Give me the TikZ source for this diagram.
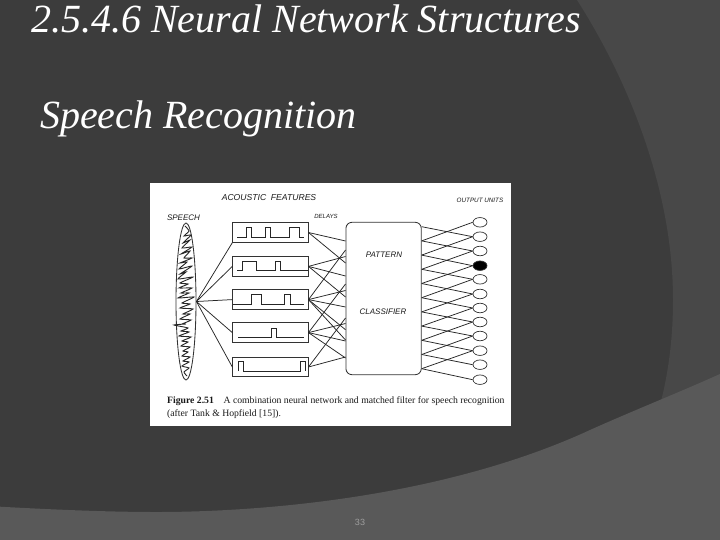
\documentclass[tikz,border=0pt]{standalone}
\usepackage{fontspec}
\setmainfont{Liberation Serif}
\setsansfont{Liberation Sans}
\usepackage{xcolor}
\usetikzlibrary{shapes.geometric}
\definecolor{slidedark}{HTML}{3C3C3C}
\definecolor{slidemid}{HTML}{484848}
\definecolor{slidelow}{HTML}{595959}
\tikzset{
  title/.style={anchor=base west, inner sep=0pt, text=white, font=\fontsize{40}{44}\selectfont\itshape},
  delaybox/.style={draw=black!80, line width=0.85pt, minimum width=75.3pt, minimum height=19.5pt, inner sep=0pt},
  unit/.style={draw=black!80, ellipse, line width=0.7pt, minimum width=14pt, minimum height=9.5pt, inner sep=0pt},
  link/.style={black!85, line width=0.75pt},
  wave/.style={black!85, line width=0.9pt},
  tag/.style={inner sep=0pt, text=black!90, font=\sffamily\itshape\fontsize{#1}{#1}\selectfont},
  caption/.style={anchor=base west, inner sep=0pt, text=black!90, font=\fontsize{9.7}{11}\selectfont},
}

\begin{document}
\begin{tikzpicture}[x=1pt,y=-1pt]
  \useasboundingbox (0,0) rectangle (720,540);
  % slide background
  \fill[slidedark] (0,0) rectangle (720,540);
  \fill[slidemid] (577,0) .. controls (625,75) and (673,185) .. (673,300)
    .. controls (673,340) and (668,375) .. (660,405) -- (720,405) -- (720,0) -- cycle;
  \fill[slidelow] (0,506.7) .. controls (60,510) and (130,513) .. (184,511.7)
    .. controls (300,509) and (460,490) .. (590,430) .. controls (630,412) and (680,392) .. (720,374)
    -- (720,540) -- (0,540) -- cycle;
  \node[title] (heading) at (31,32.5) {2.5.4.6 Neural Network Structures};
  \node[title] (subheading) at (40,129) {Speech Recognition};
  \node[inner sep=0pt, text=white!62!black, font=\sffamily\fontsize{9}{9}\selectfont] (pageno) at (360,522) {33};

  % figure
  \fill[white] (150,183) rectangle (511,426);
  \node[tag=8.6] (acoustic) at (269,198) {ACOUSTIC\ \ FEATURES};
  \node[tag=8] (speechlabel) at (183.5,218) {SPEECH};
  \node[tag=6] (delays) at (326,216.5) {DELAYS};
  \node[tag=6.3] (outputlabel) at (480,200.5) {OUTPUT UNITS};

  \node[draw=black!80, ellipse, line width=0.85pt, minimum width=20pt, minimum height=157pt, inner sep=0pt] (speech) at (186,301.5) {};
  \draw[wave] plot[smooth,tension=0.35] coordinates {
    (185,226) (189,231) (184,236) (191,235) (183,243) (190,240) (182,248) (192,247)
    (181,254) (190,251) (184,258) (192,258) (180,263) (187,262) (179,269) (192,266)
    (180,274) (186,272) (178,279) (193,277) (180,283) (188,284) (179,288) (192,288)
    (181,293) (189,293) (178,298) (194,297) (182,303) (190,304) (180,308) (193,309)
    (183,314) (190,314) (180,319) (191,320) (182,324) (186,324) (174,325) (188,328)
    (181,331) (189,332) (179,336) (191,337) (182,341) (188,342) (181,346) (190,347)
    (183,351) (188,352) (182,356) (190,357) (183,361) (189,362) (182,366) (189,368)
    (184,372) (187,376)};

  \foreach \ypos [count=\i] in {232.5,266.4,299.6,332.6,367} {
    \node[delaybox] (box\i) at (270.4,\ypos) {};
  }
  \draw[wave] (237.3,237.3) -- (246,237.3) -- (246,227.7) -- (251.7,227.7) -- (251.7,237.3) -- (265,237.3) -- (265,227.7)
    -- (270.7,227.7) -- (270.7,237.3) -- (289.3,237.3) -- (289.3,227.7) -- (299.3,227.7) -- (299.3,237.3) -- (304,237.3);
  \draw[wave] (237.3,270.7) -- (242.7,270.7) -- (242.7,261) -- (256.7,261) -- (256.7,270.7) -- (275.7,270.7) -- (275.7,261)
    -- (280,261) -- (280,270.7) -- (308,270.7);
  \draw[wave] (233,304) -- (251.7,304) -- (251.7,294.3) -- (261.7,294.3) -- (261.7,304) -- (284.3,304) -- (284.3,294.3)
    -- (290,294.3) -- (290,304) -- (304,304);
  \draw[wave] (238.3,337.3) -- (271,337.3) -- (271,328.3) -- (276,328.3) -- (276,337.3) -- (304,337.3);
  \draw[wave] (238.3,371) -- (238.3,361.7) -- (243.3,361.7) -- (243.3,371) -- (300,371) -- (300,361.7) -- (305,361.7) -- (305,371);

  \node[draw=black!80, line width=0.85pt, rounded corners=6pt, minimum width=75.3pt, minimum height=152.4pt, inner sep=0pt] (pattern) at (383.6,298.5) {};
  \node[tag=8] (patternlabel) at (384,254.5) {PATTERN};
  \node[tag=8] (classlabel) at (383,312) {CLASSIFIER};

  \foreach \ypos/\shade [count=\i] in {222.3/white,236.7/white,251/white,265.7/black,279.3/white,294/white,308/white,322/white,336/white,350.7/white,364.7/white,379.7/white} {
    \node[unit, fill=\shade] (out\i) at (480,\ypos) {};
  }

  % speech to delays
  \draw[link] (speech.east) -- (box1.south west);
  \foreach \i in {2,...,5} {
    \draw[link] (speech.east) -- (box\i.west);
  }
  % delays to classifier
  \foreach \i/\ypos in {1/241,1/263,2/256.5,2/276,2/297,3/250,3/290.5,3/307,3/329.7,3/340,4/284,4/323.5,4/341,4/358,5/318,5/357} {
    \draw[link] (box\i.east) -- (pattern.west |- 0,\ypos);
  }
  % classifier to outputs
  \foreach \k [evaluate=\k as \ypos using 226.7+(\k-1)*14.2] in {1,...,11} {
    \coordinate (edge\k) at (pattern.east |- 0,\ypos);
  }
  \foreach \k [evaluate=\k as \next using int(\k+1)] in {1,...,11} {
    \draw[link] (edge\k) -- (out\next.west);
  }
  \foreach \k [evaluate=\k as \prev using int(\k-1)] in {2,...,11} {
    \draw[link] (edge\k) -- (out\prev.west);
  }

  \node[caption] (captionone) at (167,403.5) {\textbf{Figure 2.51}\hspace{1em}A combination neural network and matched filter for speech recognition};
  \node[caption] (captiontwo) at (167,416) {(after Tank \& Hopfield [15]).};
\end{tikzpicture}
\end{document}
